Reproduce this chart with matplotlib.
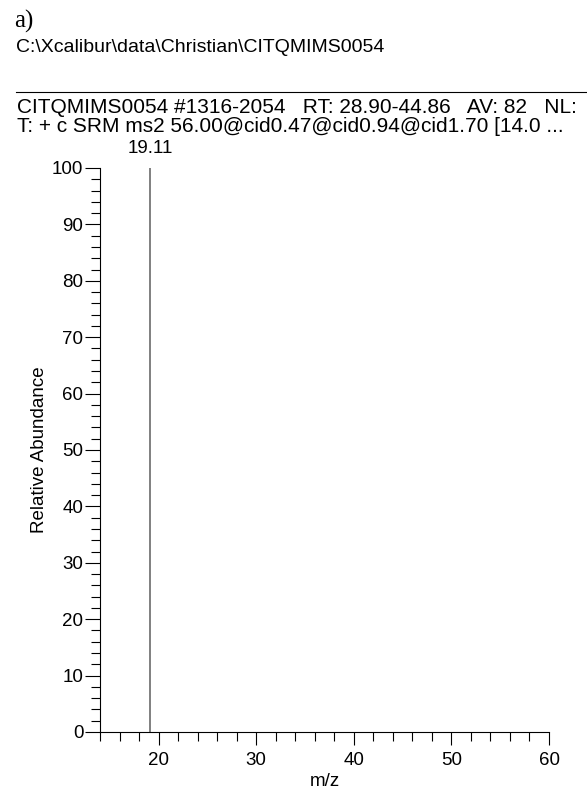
import matplotlib.pyplot as plt
from matplotlib.ticker import MultipleLocator

plt.rcParams['font.family'] = ['Liberation Sans', 'DejaVu Sans']

# 스펙트럼 데이터
mz = [19.11]
abundance = [100]
peak_labels = ['19.11']

header_path = r'C:\Xcalibur\data\Christian\CITQMIMS0054'
header_line1 = 'CITQMIMS0054 #1316-2054   RT: 28.90-44.86   AV: 82   NL:'
header_line2 = 'T: + c SRM ms2 56.00@cid0.47@cid0.94@cid1.70 [14.0 ...'

W, H = 587, 794
fig = plt.figure(figsize=(W / 100, H / 100), dpi=100)

def px(x, y):
    return x / W, 1 - y / H

# 축 위치 (픽셀 기준)
left, right, top, bottom = 100, 549, 168, 732
ax = fig.add_axes([left / W, 1 - bottom / H, (right - left) / W, (bottom - top) / H])

ax.vlines(mz, 0, abundance, color='#808080', lw=1.4)
for m, a, lab in zip(mz, abundance, peak_labels):
    ax.annotate(lab, (m, a), xytext=(0, 8), textcoords='offset points',
                ha='center', va='bottom', fontsize=13.5)

ax.set_xlim(14, 60)
ax.set_ylim(0, 100)
ax.spines['top'].set_visible(False)
ax.spines['right'].set_visible(False)
ax.spines['left'].set_linewidth(0.8)
ax.spines['bottom'].set_linewidth(0.8)

ax.xaxis.set_minor_locator(MultipleLocator(2))
ax.yaxis.set_major_locator(MultipleLocator(10))
ax.yaxis.set_minor_locator(MultipleLocator(2))
ax.set_xticks([20, 30, 40, 50, 60])
ax.tick_params(axis='both', which='major', labelsize=13.5, width=0.8, color='black')
ax.tick_params(axis='y', which='major', length=11, pad=1)
ax.tick_params(axis='y', which='minor', length=6.5, width=0.8)
ax.tick_params(axis='x', which='major', length=9.5, pad=5)
ax.tick_params(axis='x', which='minor', length=6.5, width=0.8)

ax.set_xlabel('m/z', fontsize=13.5, labelpad=3)
ax.set_ylabel('Relative Abundance', fontsize=13.5, labelpad=3)

# 헤더 텍스트
fig.text(*px(14, 21), 'a)', family='Liberation Serif', fontsize=18, va='center', ha='left')
fig.text(*px(16, 48), header_path, fontsize=14, va='center', ha='left')
fig.add_artist(plt.Line2D([16 / W, 1], [1 - 92 / H] * 2, color='black', lw=0.8))
fig.text(*px(17, 107.5), header_line1, fontsize=15, va='center', ha='left')
fig.text(*px(17, 126), header_line2, fontsize=15, va='center', ha='left')

fig.savefig('out.png', dpi=100)
